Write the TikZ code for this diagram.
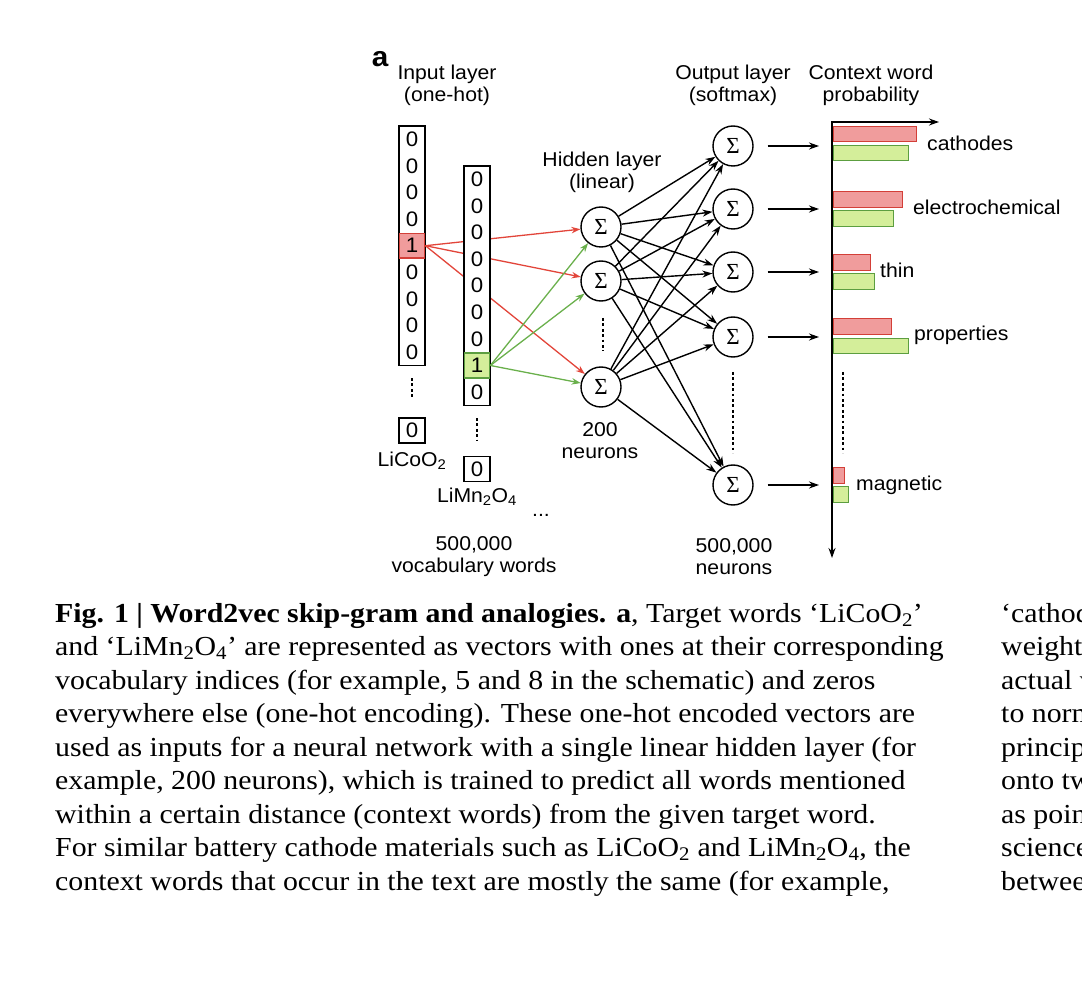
\documentclass[tikz,border=0pt]{standalone}
\usepackage{fontspec}
\setmainfont{Liberation Serif}
\newfontfamily\diafont[FakeStretch=1.06]{Liberation Sans}
\newfontfamily\capfont[FakeStretch=1.085]{Liberation Serif}
\usetikzlibrary{arrows.meta}
\definecolor{hotline}{HTML}{E2453A}
\definecolor{hotfill}{HTML}{F09C9C}
\definecolor{hotdraw}{HTML}{D33F38}
\definecolor{simline}{HTML}{6AB04C}
\definecolor{simfill}{HTML}{D4EE9A}
\definecolor{simdraw}{HTML}{5C9E40}

\begin{document}
\begin{tikzpicture}[x=1pt,y=-1pt,
		sumnode/.style={circle,draw,line width=1.4pt,minimum size=40pt,inner sep=0pt,fill=white,font=\fontsize{23}{23}\selectfont},
		digit/.style={inner sep=0pt,font=\diafont\fontsize{21}{21}\selectfont},
		vecbox/.style={draw,line width=1.6pt,minimum width=26pt,inner sep=0pt},
		hotcell/.style={draw=hotdraw,fill=hotfill,line width=1.8pt,minimum width=25pt,minimum height=24.5pt,inner sep=0pt,font=\diafont\fontsize{21}{21}\selectfont},
		simcell/.style={draw=simdraw,fill=simfill,line width=1.8pt,minimum width=25pt,minimum height=24.5pt,inner sep=0pt,font=\diafont\fontsize{21}{21}\selectfont},
		lbl/.style={align=center,inner sep=0pt,font=\diafont\fontsize{20}{22}\selectfont},
		hotarr/.style={draw=hotline,line width=1.3pt,-{Stealth[length=9pt,width=6.5pt]}},
		simarr/.style={draw=simline,line width=1.3pt,-{Stealth[length=9pt,width=6.5pt]}},
		netarr/.style={line width=1.4pt,-{Stealth[length=10pt,width=7pt]}},
		dots/.style={line width=2.8pt,dash pattern=on 2.8pt off 2.6pt},
		hotbar/.style={draw=hotdraw,fill=hotfill,line width=1pt},
		simbar/.style={draw=simdraw,fill=simfill,line width=1pt},
		captxt/.style={anchor=base west,inner sep=0pt,font=\capfont\fontsize{27.5}{30}\selectfont}
		]
		\useasboundingbox (0,0) rectangle (1082,984);

		\node[lbl,font=\diafont\bfseries\fontsize{28}{28}\selectfont] (tag) at (380,59) {a};
		\node[lbl] (inlbl) at (447,85) {Input layer\\(one-hot)};
		\node[lbl] (hidlbl) at (602,172) {Hidden layer\\(linear)};
		\node[lbl] (outlbl) at (733,85) {Output layer\\(softmax)};
		\node[lbl] (problbl) at (871,85) {Context word\\probability};

		% first one-hot vector
		\node[vecbox,minimum height=239.4pt] (V1) at (412,245.7) {};
		\foreach \k in {0,1,2,3,5,6,7,8}
			\node[digit] (V1d\k) at (412,139.3+26.6*\k) {0};
		\node[hotcell] (V1hot) at (412,245.7) {1};
		\draw[dots] (412,378) -- (412,398);
		\node[vecbox,minimum height=25pt,digit] (V1end) at (412,430.5) {0};
		\node[lbl] (V1name) at (412,461) {LiCoO\textsubscript{2}};

		\node[sumnode] (H1) at (601,227) {Σ};
		\node[sumnode] (H2) at (601,281) {Σ};
		\node[sumnode] (H3) at (601,387) {Σ};
		\draw[dots] (603,318) -- (603,351);
		\node[lbl] (hidnum) at (600,441) {200\\neurons};

		\node[sumnode] (O1) at (733,146) {Σ};
		\node[sumnode] (O2) at (733,209) {Σ};
		\node[sumnode] (O3) at (733,272) {Σ};
		\node[sumnode] (O4) at (733,337) {Σ};
		\node[sumnode] (O5) at (733,485) {Σ};
		\draw[dots] (733,372) -- (733,453);
		\node[lbl] (outnum) at (734,557) {500,000\\neurons};

		\draw[hotarr] (V1hot.east) -- (H1);
		\draw[hotarr] (V1hot.east) -- (H2);
		\draw[hotarr] (V1hot.east) -- (H3);

		% second one-hot vector
		\node[vecbox,fill=white,minimum height=239.4pt] (V2) at (477,285.7) {};
		\foreach \k in {0,1,2,3,4,5,6,8}
			\node[digit] (V2d\k) at (477,179.3+26.6*\k) {0};
		\node[simcell] (V2hot) at (477,365.5) {1};
		\draw[dots] (477,418) -- (477,441);
		\node[vecbox,minimum height=25pt,digit] (V2end) at (477,469) {0};
		\node[lbl] (V2name) at (477,497) {LiMn\textsubscript{2}O\textsubscript{4}};
		\node[lbl] (more) at (541,515) {...};
		\node[lbl] (vocab) at (474,557) {500,000\\vocabulary words};

		\draw[simarr] (V2hot.east) -- (H1);
		\draw[simarr] (V2hot.east) -- (H2);
		\draw[simarr] (V2hot.east) -- (H3);

		\foreach \h in {H1,H2,H3}
			\foreach \o in {O1,O2,O3,O4,O5}
				\draw[netarr] (\h) -- (\o);

		% probability axis
		\coordinate (ax0) at (832,122);
		\coordinate (axX) at (939,122);
		\coordinate (axY) at (832,558);
		\draw[line width=1.4pt,{Stealth[length=10pt,width=7pt]}-{Stealth[length=10pt,width=7pt]}] (axX) -- (ax0) -- (axY);

		\coordinate (A1) at (819,146);
		\coordinate (A2) at (819,209);
		\coordinate (A3) at (819,272);
		\coordinate (A4) at (819,337);
		\coordinate (A5) at (819,485);
		\draw[netarr,shorten <=14pt] (O1) -- (A1);
		\draw[netarr,shorten <=14pt] (O2) -- (A2);
		\draw[netarr,shorten <=14pt] (O3) -- (A3);
		\draw[netarr,shorten <=14pt] (O4) -- (A4);
		\draw[netarr,shorten <=14pt] (O5) -- (A5);

		\draw[hotbar] (833.5,127) rectangle (916,142);
		\draw[simbar] (833.5,145.5) rectangle (908,161);
		\draw[hotbar] (833.5,192) rectangle (902,207.5);
		\draw[simbar] (833.5,211) rectangle (893,227);
		\draw[hotbar] (833.5,255) rectangle (870,271);
		\draw[simbar] (833.5,274) rectangle (874,289.5);
		\draw[hotbar] (833.5,319) rectangle (891,335);
		\draw[simbar] (833.5,339) rectangle (908,354);
		\draw[hotbar] (833.5,467) rectangle (844,483);
		\draw[simbar] (833.5,486) rectangle (848,502);
		\draw[dots] (843,372) -- (843,453);

		\node[lbl,anchor=base west] (w1) at (927,151) {cathodes};
		\node[lbl,anchor=base west] (w2) at (913,215) {electrochemical};
		\node[lbl,anchor=base west] (w3) at (880,278) {thin};
		\node[lbl,anchor=base west] (w4) at (914,341) {properties};
		\node[lbl,anchor=base west] (w5) at (856,490) {magnetic};

		% caption
		\node[captxt] (cap1) at (55,622) {\textbf{Fig. 1 | Word2vec skip-gram and analogies. a}, Target words ‘LiCoO\textsubscript{2}’};
		\node[captxt] (cap2) at (55,655.5) {and ‘LiMn\textsubscript{2}O\textsubscript{4}’ are represented as vectors with ones at their corresponding};
		\node[captxt] (cap3) at (55,689) {vocabulary indices (for example, 5 and 8 in the schematic) and zeros};
		\node[captxt] (cap4) at (55,722.5) {everywhere else (one-hot encoding). These one-hot encoded vectors are};
		\node[captxt] (cap5) at (55,756) {used as inputs for a neural network with a single linear hidden layer (for};
		\node[captxt] (cap6) at (55,789.5) {example, 200 neurons), which is trained to predict all words mentioned};
		\node[captxt] (cap7) at (55,823) {within a certain distance (context words) from the given target word.};
		\node[captxt] (cap8) at (55,856.5) {For similar battery cathode materials such as LiCoO\textsubscript{2} and LiMn\textsubscript{2}O\textsubscript{4}, the};
		\node[captxt] (cap9) at (55,890) {context words that occur in the text are mostly the same (for example,};

		\node[captxt] (capr1) at (1001,622) {‘cathod};
		\node[captxt] (capr2) at (1001,655.5) {weight};
		\node[captxt] (capr3) at (1001,689) {actual v};
		\node[captxt] (capr4) at (1001,722.5) {to norm};
		\node[captxt] (capr5) at (1001,756) {princip};
		\node[captxt] (capr6) at (1001,789.5) {onto tw};
		\node[captxt] (capr7) at (1001,823) {as poin};
		\node[captxt] (capr8) at (1001,856.5) {science};
		\node[captxt] (capr9) at (1001,890) {betwee};
	\end{tikzpicture}
\end{document}
